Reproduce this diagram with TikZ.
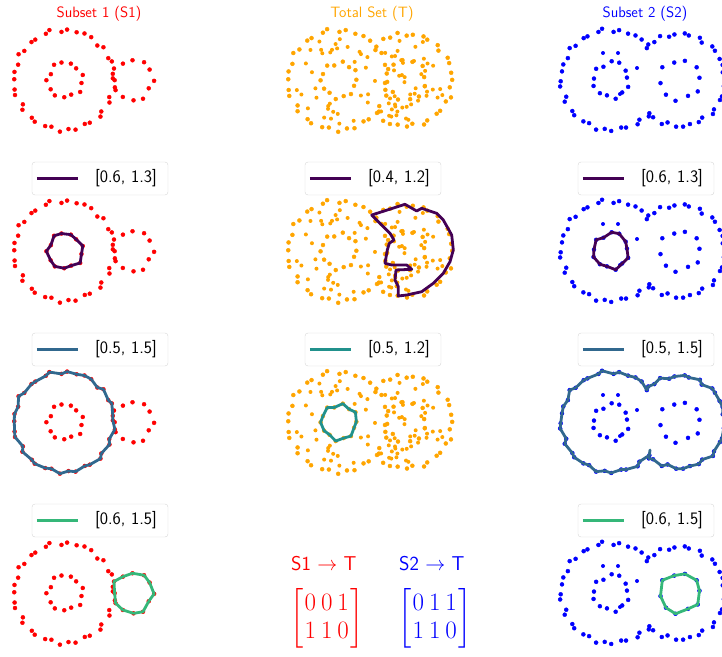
\RequirePackage{fix-cm}
\documentclass[tikz,border=0pt]{standalone}
\usepackage{amsmath}
\usepackage{tikz}
\usetikzlibrary{calc}
\definecolor{ptRed}{HTML}{FF0000}
\definecolor{ptOrange}{HTML}{FFA500}
\definecolor{ptBlue}{HTML}{0000FF}
\definecolor{vPurple}{HTML}{440154}
\definecolor{vSteel}{HTML}{31688E}
\definecolor{vTeal}{HTML}{21918C}
\definecolor{vGreen}{HTML}{35B779}
\definecolor{legRule}{HTML}{D6D6D6}

% noisy ring of samples: cx, cy, radius, start angle, count, angle step, jitter offset
\newcommand\ring[7]{plot[domain=1:#5,samples=#5,variable=\k]
  ({#1+(#3+jr(\k+#7))*cos(#4+#6*\k+ja(\k+#7))},
   {#2+(#3+jr(\k+#7))*sin(#4+#6*\k+ja(\k+#7))})}
\newcommand\dsp{\mskip3.5mu}

% the three point clouds, placed by the y of their centre
\newcommand\subsetone[1]{%
  \draw[dotR] \ring{64}{#1}{50}{0}{38}{9.474}{0};
  \draw[dotR] \ring{65}{#1}{17.5}{-100}{13}{27.7}{5};
  \draw[dotR] \ring{133}{#1}{20}{-120}{12}{30}{11};
}
\newcommand\subsettwo[1]{%
  \draw[dotB] \ring{611}{#1}{50}{33.87}{31}{9.133}{2};
  \draw[dotB] \ring{679}{#1}{46}{-141.43}{29}{9.43}{7};
  \draw[dotB] \ring{611}{#1}{17.5}{-90}{13}{27.7}{4};
  \draw[dotB] \ring{680}{#1}{20}{-178.9}{10}{34.9}{9};
  \foreach \dx/\dy in {-8/-27,7/-27,26/-12,9/14}
    \fill[ptBlue] (611+\dx,#1+\dy) circle (2pt);
}
\newcommand\totalset[1]{%
  \pgfmathsetseed{31}
  \draw[dotT] \ring{338}{#1}{50}{0}{36}{10}{1};
  \draw[dotT] \ring{406}{#1}{46}{-140}{27}{10}{6};
  \draw[dotT] \ring{339}{#1}{17.5}{-80}{14}{25.7}{3};
  \draw[dotT] \ring{406}{#1}{20}{-100}{12}{30}{8};
  \foreach \i in {1,...,35}{
    \pgfmathsetmacro\prad{sqrt(24^2+rnd*(44^2-24^2))}
    \pgfmathsetmacro\pang{360*rnd}
    \fill[ptOrange] ({338+\prad*cos(\pang)},{#1+\prad*sin(\pang)}) circle (2pt);
  }
  \foreach \i in {1,...,50}{
    \pgfmathsetmacro\prad{42*sqrt(rnd)}
    \pgfmathsetmacro\pang{360*rnd}
    \pgfmathsetmacro\px{68+\prad*cos(\pang)}
    \pgfmathsetmacro\py{\prad*sin(\pang)}
    \pgfmathsetmacro\pd{veclen(\px,\py)}
    \ifdim\pd pt>53pt \fill[ptOrange] ({338+\px},{#1+\py}) circle (2pt);\fi
  }
}
% legend: name, x, y, colour, text
\newcommand\legendbox[5]{%
  \node[legbox] (#1) at (#2,#3) {#5};
  \draw[cyc, #4] ([xshift=5pt]#1.west) -- ([xshift=46pt]#1.west);
}

\begin{document}
\begin{tikzpicture}[
  x=1pt, y=-1pt,
  declare function={jr(\u)=1.5*sin(151*\u)+0.8*sin(83*\u+40); ja(\u)=2.3*sin(197*\u+15);},
  dotR/.style={color=ptRed, mark=*, only marks, mark size=2pt},
  dotT/.style={color=ptOrange, mark=*, only marks, mark size=2pt},
  dotB/.style={color=ptBlue, mark=*, only marks, mark size=2pt},
  cyc/.style={line width=2.8pt, line join=round},
  legbox/.style={draw=legRule, fill=white, rounded corners=3pt, minimum height=33pt,
                 text width=114pt, align=right, inner xsep=11pt, inner ysep=0pt,
                 font=\sffamily\fontsize{17.5pt}{17.5pt}\selectfont},
  ttl/.style={anchor=base, font=\sffamily\fontsize{15pt}{15pt}\selectfont},
  maplbl/.style={anchor=base west, inner sep=0pt, font=\sffamily\fontsize{20pt}{20pt}\selectfont},
  mat/.style={anchor=west, inner sep=0pt, font=\fontsize{25pt}{28.3pt}\selectfont}
]
\useasboundingbox (0,0) rectangle (722,656);

% titles
\node[ttl, text=ptRed] (tS1) at (99,17.5) {Subset 1 (S1)};
\node[ttl, text=ptOrange] (tT) at (372,17.5) {Total Set (T)};
\node[ttl, text=ptBlue] (tS2) at (645,17.5) {Subset 2 (S2)};

% row 1
\subsetone{80}
\totalset{80}
\subsettwo{80}

% row 2
\subsetone{251}
\totalset{251}
\subsettwo{251}
\draw[cyc, vPurple] \ring{65}{251}{17.5}{-100}{13}{27.7}{5} -- cycle;
\draw[cyc, vPurple] (371.7,215) -- (405,204.3) -- (416.7,211) -- (421.7,208.3)
  -- (436.7,213.3) -- (443.3,220) -- (451.7,235) -- (453.3,250) -- (450,261.7)
  -- (443.3,273.3) -- (433.3,283.3) -- (421.7,291.7) -- (406.7,295) -- (398.3,296)
  -- (398.3,286.7) -- (395,280) -- (396,270) -- (411.7,269.3) -- (406.7,265)
  -- (391.7,265) -- (385,263.3) -- (387.3,250) -- (389.3,243.3) -- (394,240)
  -- (390,233.3) -- (383.3,226.7) -- cycle;
\draw[cyc, vPurple] \ring{611}{251}{17.5}{-90}{13}{27.7}{4} -- cycle;
\legendbox{l21}{100}{178.5}{vPurple}{[0.6, 1.3]}
\legendbox{l22}{373}{178.5}{vPurple}{[0.4, 1.2]}
\legendbox{l23}{646}{178.5}{vPurple}{[0.6, 1.3]}

% row 3
\subsetone{422}
\totalset{422}
\subsettwo{422}
\draw[cyc, vSteel] \ring{64}{422}{50}{0}{38}{9.474}{0} -- cycle;
\draw[cyc, vTeal] \ring{339}{422}{17.5}{-80}{14}{25.7}{3} -- cycle;
\draw[cyc, vSteel]
  plot[domain=1:31,samples=31,variable=\k]
    ({611+(50+jr(\k+2))*cos(33.87+9.133*\k+ja(\k+2))},
     {422+(50+jr(\k+2))*sin(33.87+9.133*\k+ja(\k+2))})
  -- plot[domain=1:29,samples=29,variable=\k]
    ({679+(46+jr(\k+7))*cos(-141.43+9.43*\k+ja(\k+7))},
     {422+(46+jr(\k+7))*sin(-141.43+9.43*\k+ja(\k+7))})
  -- (650,450) -- cycle;
\legendbox{l31}{100}{349.5}{vSteel}{[0.5, 1.5]}
\legendbox{l32}{373}{349.5}{vTeal}{[0.5, 1.2]}
\legendbox{l33}{646}{349.5}{vSteel}{[0.5, 1.5]}

% row 4
\subsetone{593}
\subsettwo{593}
\draw[cyc, vGreen] \ring{133}{593}{20}{-120}{12}{30}{11} -- cycle;
\draw[cyc, vGreen] \ring{680}{593}{20}{-178.9}{10}{34.9}{9} -- cycle;
\legendbox{l41}{100}{520.5}{vGreen}{[0.6, 1.5]}
\legendbox{l43}{646}{520.5}{vGreen}{[0.6, 1.5]}

% maps
\node[maplbl, text=ptRed] (mS1) at (291,570.7) {S1 $\rightarrow$ T};
\node[maplbl, text=ptBlue] (mS2) at (399,570.7) {S2 $\rightarrow$ T};
\node[mat, text=ptRed] (xS1) at (290,618.5)
  {$\left[\begin{array}{@{\mskip1mu}c@{\mskip1mu}}0\dsp0\dsp1\\1\dsp1\dsp0\end{array}\right]$};
\node[mat, text=ptBlue] (xS2) at (398,618.5)
  {$\left[\begin{array}{@{\mskip1mu}c@{\mskip1mu}}0\dsp1\dsp1\\1\dsp1\dsp0\end{array}\right]$};
\end{tikzpicture}
\end{document}
